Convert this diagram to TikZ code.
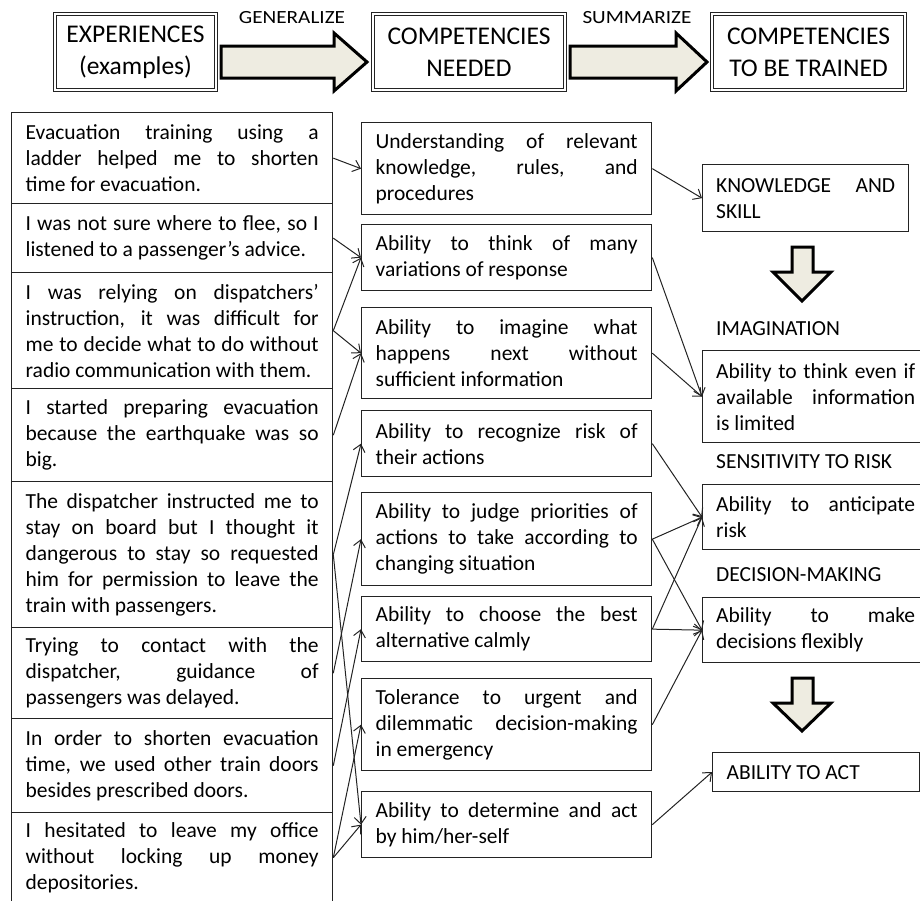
\documentclass[tikz,border=0pt]{standalone}
\usepackage{fontspec}
\setmainfont{Carlito}
\newfontfamily\widefont[FakeStretch=1.14]{Carlito}
\usetikzlibrary{arrows.meta}
\definecolor{linec}{RGB}{35,35,35}
\definecolor{arrowfill}{RGB}{238,236,225}
\hyphenpenalty=10000
\exhyphenpenalty=10000
\tolerance=10000
\hbadness=10000
\begin{document}
\begin{tikzpicture}[x=1pt,y=-1pt,
  box/.style={draw=linec, line width=1.3pt, rectangle, anchor=north west, inner ysep=0pt, align=justify, font=\fontsize{21.5}{26}\selectfont},
  ebox/.style={box, text width=293pt, inner xsep=14pt},
  mbox/.style={box, text width=262pt, inner xsep=14pt},
  rbox/.style={box, text width=#1, inner xsep=13.5pt},
  hbox/.style={draw=linec, double=white, double distance=2pt, line width=1.1pt, align=flush center, minimum height=75.8pt, inner sep=0pt, font=\fontsize{25.5}{32}\selectfont},
  lbl/.style={anchor=west, inner sep=0pt, font=\fontsize{21.5}{26}\selectfont},
  hlbl/.style={inner sep=0pt, font=\widefont\fontsize{18.6}{22}\selectfont},
  conn/.style={draw=linec, line width=1pt, -{Straight Barb[length=7pt,width=12pt]}},
  blockarrow/.style={draw=black, line width=3pt, fill=arrowfill, line join=miter, miter limit=10}
]
\useasboundingbox (0,0) rectangle (920,900);

% header
\node[hbox, minimum width=160.8pt] (h1) at (135.5,52) {EXPERIENCES\\(examples)};
\node[hbox, minimum width=191.8pt] (h2) at (469,52) {COMPETENCIES\\NEEDED};
\node[hbox, minimum width=192.8pt] (h3) at (808.5,52) {COMPETENCIES\\TO BE TRAINED};
\node[hlbl] (gen) at (292,18) {GENERALIZE};
\node[hlbl] (sum) at (637,18) {SUMMARIZE};
\draw[blockarrow] (221,46) -- (334,46) -- (334,33) -- (367,62) -- (334,91) -- (334,78) -- (221,78) -- cycle;
\draw[blockarrow] (570,46) -- (676,46) -- (676,33) -- (707,62) -- (676,91) -- (676,78) -- (570,78) -- cycle;

% experiences
\node[ebox, minimum height=91pt] (e1) at (11,112) {Evacuation training using a\linebreak ladder helped me to shorten\linebreak time for evacuation.};
\node[ebox, minimum height=69pt] (e2) at (11,203) {I was not sure where to flee, so I\linebreak listened to a passenger’s advice.};
\node[ebox, minimum height=116pt] (e3) at (11,272) {I was relying on dispatchers’\linebreak instruction, it was difficult for\linebreak me to decide what to do without\linebreak radio communication with them.};
\node[ebox, minimum height=93pt] (e4) at (11,388) {I started preparing evacuation\linebreak because the earthquake was so\linebreak big.};
\node[ebox, minimum height=146pt] (e5) at (11,481) {The dispatcher instructed me to\linebreak stay on board but I thought it\linebreak dangerous to stay so requested\linebreak him for permission to leave the\linebreak train with passengers.};
\node[ebox, minimum height=91pt] (e6) at (11,627) {Trying to contact with the\linebreak dispatcher, guidance of\linebreak passengers was delayed.};
\node[ebox, minimum height=94pt] (e7) at (11,718) {In order to shorten evacuation\linebreak time, we used other train doors\linebreak besides prescribed doors.};
\node[ebox, minimum height=90pt] (e8) at (11,812) {I hesitated to leave my office\linebreak without locking up money\linebreak depositories.};

% competencies needed
\node[mbox, minimum height=92pt] (m1) at (361,122) {Understanding of relevant\linebreak knowledge, rules, and\linebreak procedures};
\node[mbox, minimum height=66pt] (m2) at (361,224) {Ability to think of many\linebreak variations of response};
\node[mbox, minimum height=91pt] (m3) at (361,307) {Ability to imagine what\linebreak happens next without\linebreak sufficient information};
\node[mbox, minimum height=66pt] (m4) at (361,410) {Ability to recognize risk of\linebreak their actions};
\node[mbox, minimum height=93pt] (m5) at (361,492) {Ability to judge priorities of\linebreak actions to take according to\linebreak changing situation};
\node[mbox, minimum height=65pt] (m6) at (361,596) {Ability to choose the best\linebreak alternative calmly};
\node[mbox, minimum height=92pt] (m7) at (361,678) {Tolerance to urgent and\linebreak dilemmatic decision-making\linebreak in emergency};
\node[mbox, minimum height=66pt] (m8) at (361,791) {Ability to determine and act\linebreak by him/her-self};

% competencies to be trained
\node[rbox=179pt, minimum height=67pt] (r1) at (702,164) {KNOWLEDGE AND\linebreak SKILL};
\draw[blockarrow] (792,247) -- (813,247) -- (813,272) -- (831,272) -- (802,301) -- (773,272) -- (792,272) -- cycle;
\node[lbl] (limag) at (716,329) {IMAGINATION};
\node[rbox=199pt, minimum height=92pt] (r2) at (702,350) {Ability to think even if\linebreak available information\linebreak is limited};
\node[lbl] (lrisk) at (716,462) {SENSITIVITY TO RISK};
\node[rbox=199pt, minimum height=65pt] (r3) at (702,484) {Ability to anticipate\linebreak risk};
\node[lbl] (ldec) at (716,575) {DECISION-MAKING};
\node[rbox=199pt, minimum height=65pt] (r4) at (702,597) {Ability to make\linebreak decisions flexibly};
\draw[blockarrow] (792,678) -- (813,678) -- (813,703) -- (831,703) -- (802,731) -- (773,703) -- (792,703) -- cycle;
\node[box, align=flush left, text width=179pt, inner xsep=14pt, minimum height=39pt] (r5) at (712,752) {ABILITY TO ACT};

% connectors: experiences -> competencies needed
\draw[conn] (e1.east) -- (m1.west);
\draw[conn] (e2.east) -- (m2.west);
\draw[conn] (e3.east) -- (m2.west);
\draw[conn] (e3.east) -- (m3.west);
\draw[conn] (e4.east) -- (m3.west);
\draw[conn] (e5.east) -- (m4.west);
\draw[conn] (e5.east) -- (m8.west);
\draw[conn] (e6.east) -- (m5.west);
\draw[conn] (e7.east) -- (m6.west);
\draw[conn] (e8.east) -- (m7.west);
\draw[conn] (e8.east) -- (m8.west);

% connectors: competencies needed -> to be trained
\draw[conn] (m1.east) -- (r1.west);
\draw[conn] (m2.east) -- (r2.west);
\draw[conn] (m3.east) -- (r2.west);
\draw[conn] (m4.east) -- (r3.west);
\draw[conn] (m5.east) -- (r3.west);
\draw[conn] (m5.east) -- (r4.west);
\draw[conn] (m6.east) -- (r3.west);
\draw[conn] (m6.east) -- (r4.west);
\draw[conn] (m7.east) -- (r4.west);
\draw[conn] (m8.east) -- (r5.west);
\end{tikzpicture}
\end{document}
